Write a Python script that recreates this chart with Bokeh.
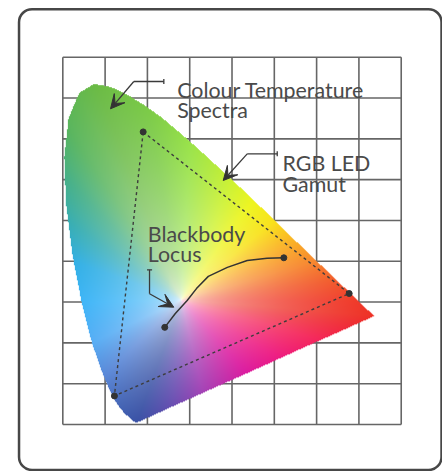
import numpy as np
from bokeh.plotting import figure
from bokeh.models import Arrow, VeeHead, Range1d
from bokeh.core.properties import value
from bokeh.embed import file_html
from bokeh.resources import INLINE

# ---------------- data ----------------
# CIE 1931 2-degree spectral locus, 380-700 nm in 5 nm steps
locus_x = [0.1741, 0.1740, 0.1738, 0.1736, 0.1733, 0.1730, 0.1726, 0.1721, 0.1714, 0.1703,
           0.1689, 0.1669, 0.1644, 0.1611, 0.1566, 0.1510, 0.1440, 0.1355, 0.1241, 0.1096,
           0.0913, 0.0687, 0.0454, 0.0235, 0.0082, 0.0039, 0.0139, 0.0389, 0.0743, 0.1142,
           0.1547, 0.1929, 0.2296, 0.2658, 0.3016, 0.3373, 0.3731, 0.4087, 0.4441, 0.4788,
           0.5125, 0.5448, 0.5752, 0.6029, 0.6270, 0.6482, 0.6658, 0.6801, 0.6915, 0.7006,
           0.7079, 0.7140, 0.7190, 0.7230, 0.7260, 0.7283, 0.7300, 0.7311, 0.7320, 0.7327,
           0.7334, 0.7340, 0.7344, 0.7346, 0.7347]
locus_y = [0.0050, 0.0050, 0.0049, 0.0049, 0.0048, 0.0048, 0.0048, 0.0048, 0.0051, 0.0058,
           0.0069, 0.0086, 0.0109, 0.0138, 0.0177, 0.0227, 0.0297, 0.0399, 0.0578, 0.0868,
           0.1327, 0.2007, 0.2950, 0.4127, 0.5384, 0.6548, 0.7502, 0.8120, 0.8338, 0.8262,
           0.8059, 0.7816, 0.7543, 0.7243, 0.6923, 0.6589, 0.6245, 0.5896, 0.5547, 0.5202,
           0.4866, 0.4544, 0.4242, 0.3965, 0.3725, 0.3514, 0.3340, 0.3197, 0.3083, 0.2993,
           0.2920, 0.2859, 0.2809, 0.2770, 0.2740, 0.2717, 0.2700, 0.2689, 0.2680, 0.2673,
           0.2666, 0.2660, 0.2656, 0.2654, 0.2653]

grid_x = [0.0, 0.1, 0.2, 0.3, 0.4, 0.5, 0.6, 0.7, 0.8]
grid_y = [0.0, 0.1, 0.2, 0.3, 0.4, 0.5, 0.6, 0.7, 0.8, 0.9]

gamut_x = [0.190, 0.677, 0.122]   # G, R, B primaries
gamut_y = [0.717, 0.321, 0.070]

blackbody_x = [0.241, 0.266, 0.294, 0.316, 0.344, 0.389, 0.436, 0.483, 0.5225]
blackbody_y = [0.238, 0.272, 0.304, 0.333, 0.363, 0.385, 0.402, 0.4075, 0.4085]

label_lines = ["Colour Temperature", "Spectra", "RGB LED", "Gamut", "Blackbody", "Locus"]
label_x = [0.2704, 0.2704, 0.5194, 0.5194, 0.2009, 0.2009]
label_y = [0.8190, 0.7700, 0.6418, 0.5904, 0.4674, 0.4167]

# leader lines: (elbow-start points, arrow tip)
leaders = [
    ([0.2388, 0.1678], [0.8405, 0.8405], (0.1128, 0.7736)),
    ([0.5069, 0.4359], [0.6633, 0.6633], (0.3792, 0.5979)),
    ([0.2050, 0.2050], [0.3791, 0.3203], (0.2624, 0.2874)),
]
# small end ticks of the leaders (x0, y0, x1, y1)
leader_ticks = [
    (0.2388, 0.8345, 0.2388, 0.8465),
    (0.5069, 0.6573, 0.5069, 0.6693),
    (0.1990, 0.3791, 0.2110, 0.3791),
]

# ---------------- colour field styling ----------------
white_pt = (0.280, 0.305)
key_colours = [
    (0.7347, 0.2653, "#ee3126"), (0.70, 0.30, "#f03a2a"), (0.65, 0.35, "#f25a2c"),
    (0.60, 0.40, "#f7872e"), (0.55, 0.45, "#fbb126"), (0.50, 0.50, "#f9e21a"),
    (0.45, 0.55, "#eef51e"), (0.40, 0.60, "#cdf232"), (0.30, 0.69, "#9ae34a"),
    (0.20, 0.78, "#7ccb48"), (0.08, 0.83, "#6bbb45"), (0.03, 0.70, "#59b55e"),
    (0.012, 0.60, "#46b088"), (0.006, 0.50, "#38aeb4"), (0.02, 0.40, "#33b0e6"),
    (0.045, 0.30, "#40b6f8"), (0.07, 0.20, "#58aef5"), (0.10, 0.12, "#5a88d8"),
    (0.14, 0.05, "#4565b5"), (0.174, 0.005, "#3a52a6"), (0.26, 0.045, "#6a4fb2"),
    (0.33, 0.08, "#a443b6"), (0.43, 0.13, "#dc1ca0"), (0.51, 0.165, "#ee1c82"),
    (0.60, 0.21, "#f5265a"), (0.68, 0.24, "#f02c38"),
]


def hex_rgb(h):
    return [int(h[i:i + 2], 16) for i in (1, 3, 5)]


def colour_field(nx, ny):
    bx = np.array(locus_x + [locus_x[0]])
    by = np.array(locus_y + [locus_y[0]])
    dx, dy = [], []
    for i in range(len(bx) - 1):
        t = np.linspace(0, 1, 40, endpoint=False)
        dx.append(bx[i] + (bx[i + 1] - bx[i]) * t)
        dy.append(by[i] + (by[i + 1] - by[i]) * t)
    dx = np.concatenate(dx)
    dy = np.concatenate(dy)
    wx, wy = white_pt
    ba = np.arctan2(dy - wy, dx - wx)
    br = np.hypot(dx - wx, dy - wy)
    o = np.argsort(ba)
    ba, br = ba[o], br[o]

    xs = (np.arange(nx) + 0.5) / nx * 0.8
    ys = (np.arange(ny) + 0.5) / ny * 0.9
    X, Y = np.meshgrid(xs, ys)
    A = np.arctan2(Y - wy, X - wx)
    R = np.hypot(X - wx, Y - wy)
    Rb = np.interp(A, ba, br, period=2 * np.pi)
    s = np.clip(R / Rb, 0, 1)

    ka = np.array([np.arctan2(k[1] - wy, k[0] - wx) for k in key_colours])
    kc = np.array([hex_rgb(k[2]) for k in key_colours], dtype=float)
    o = np.argsort(ka)
    ka, kc = ka[o], kc[o]
    g = s ** 0.42
    out = np.zeros((ny, nx, 4), dtype=np.uint8)
    for c in range(3):
        cc = np.interp(A, ka, kc[:, c], period=2 * np.pi)
        out[..., c] = np.clip(255 + (cc - 255) * g, 0, 255).astype(np.uint8)

    inside = np.zeros(X.shape, dtype=bool)
    for i in range(len(bx) - 1):
        x1, y1, x2, y2 = bx[i], by[i], bx[i + 1], by[i + 1]
        cond = (y1 > Y) != (y2 > Y)
        xi = x1 + (Y - y1) * (x2 - x1) / (y2 - y1 + 1e-12)
        inside ^= cond & (X < xi)
    out[..., 3] = np.where(inside, 255, 0)
    return out.view(dtype=np.uint32).reshape(ny, nx)


# ---------------- figure ----------------
p = figure(width=442, height=471, output_backend="svg", toolbar_location=None,
           x_range=Range1d(-0.1473, 0.8976), y_range=Range1d(-0.1152, 1.0390),
           x_axis_location=None, y_axis_location=None, min_border=0,
           background_fill_color="white", border_fill_color="white")
p.grid.visible = False
p.outline_line_color = None

# outer rounded frame
p.quad(left=[-0.1035], right=[0.8953], top=[1.0177], bottom=[-0.1115],
       fill_color=None, line_color="#474747", line_width=2.5, border_radius=13)

# grid
gx = np.array(grid_x)
gy = np.array(grid_y)
p.segment(x0=gx, y0=[grid_y[0]] * len(gx), x1=gx, y1=[grid_y[-1]] * len(gx),
          line_color="#666666", line_width=1.6)
p.segment(x0=[grid_x[0]] * len(gy), y0=gy, x1=[grid_x[-1]] * len(gy), y1=gy,
          line_color="#666666", line_width=1.6)

# colour field
img = colour_field(680, 736)
p.image_rgba(image=[img], x=grid_x[0], y=grid_y[0], dw=grid_x[-1] - grid_x[0],
             dh=grid_y[-1] - grid_y[0])

# gamut triangle
p.line(x=gamut_x + [gamut_x[0]], y=gamut_y + [gamut_y[0]], line_color="#3d3d3d",
       line_width=1.4, line_dash="3 3")
p.scatter(x=gamut_x, y=gamut_y, size=6, color="#333333")

# blackbody locus
p.line(x=blackbody_x, y=blackbody_y, line_color="#333333", line_width=1.5)
p.scatter(x=[blackbody_x[0], blackbody_x[-1]], y=[blackbody_y[0], blackbody_y[-1]],
          size=6, color="#333333")

# leaders
for lx, ly, tip in leaders:
    p.line(x=lx, y=ly, line_color="#3a3a3a", line_width=1.3)
    p.add_layout(Arrow(end=VeeHead(size=14, fill_color="#333333", line_color="#333333",
                                   line_width=1),
                       x_start=lx[-1], y_start=ly[-1], x_end=tip[0], y_end=tip[1],
                       line_color="#3a3a3a", line_width=1.3))
p.segment(x0=[t[0] for t in leader_ticks], y0=[t[1] for t in leader_ticks],
          x1=[t[2] for t in leader_ticks], y1=[t[3] for t in leader_ticks],
          line_color="#3a3a3a", line_width=1.3)

# labels
p.text(x=label_x, y=label_y, text=label_lines, text_font=value("Lato"),
       text_font_size="21.4px", text_color="#4a4a4a", text_baseline="alphabetic")

open("out.html", "w").write(file_html(p, INLINE))
